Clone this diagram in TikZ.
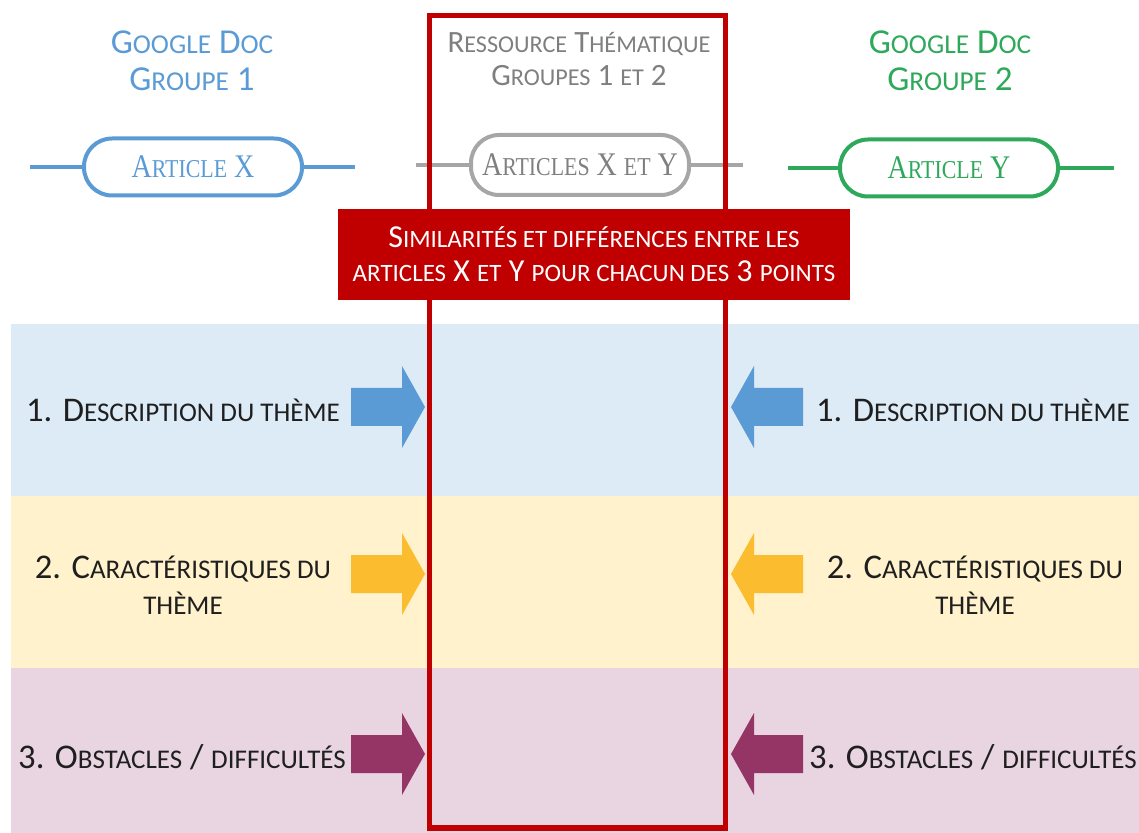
\documentclass[tikz,border=0pt]{standalone}
\usepackage{graphicx}
\usepackage{fontspec}
\setmainfont{Carlito}
\newfontfamily\pillfont{Liberation Serif}[FakeStretch=0.85]
\usetikzlibrary{calc}
\definecolor{bandblue}{HTML}{DDEBF7}
\definecolor{bandyellow}{HTML}{FFF2CC}
\definecolor{bandpurple}{HTML}{E8D5E1}
\definecolor{docblue}{HTML}{5B9BD5}
\definecolor{docgreen}{HTML}{2EA85A}
\definecolor{resgrey}{HTML}{7F7F7F}
\definecolor{pillgrey}{HTML}{A6A6A6}
\definecolor{redA}{HTML}{C00000}
\definecolor{arryellow}{HTML}{FBBC30}
\definecolor{arrpurple}{HTML}{953566}
\definecolor{itemtext}{HTML}{1F1F1F}
\newcommand\smc[1]{\scalebox{0.78}{#1}}

\begin{document}
\begin{tikzpicture}[x=0.5pt,y=-0.5pt,
    head/.style={align=center, font=\fontsize{17.5}{18.5}\selectfont},
    pill/.style={draw, line width=2pt, rounded corners=14pt, minimum width=109pt, minimum height=28.5pt, font=\pillfont\fontsize{16.5}{20}\selectfont},
    item/.style={align=center, text=itemtext, font=\fontsize{17.3}{18}\selectfont}]
            \useasboundingbox (0,0) rectangle (1139,833);
            \fill [bandblue] (11,324) rectangle (1139,496);
            \fill [bandyellow] (11,496) rectangle (1139,668);
            \fill [bandpurple] (11,668) rectangle (1139,833);
            \node (gd1) at (192,61) [head, text=docblue] {G\smc{OOGLE} D\smc{OC}\\G\smc{ROUPE} 1};
            \node (res) at (579,59) [head, text=resgrey, font=\fontsize{15.5}{16.5}\selectfont] {R\smc{ESSOURCE} T\smc{HÉMATIQUE}\\G\smc{ROUPES} 1 \smc{ET} 2};
            \node (gd2) at (950,61) [head, text=docgreen] {G\smc{OOGLE} D\smc{OC}\\G\smc{ROUPE} 2};
            \node (artX) at (193,167) [pill, docblue] {A\smc{RTICLE} X};
            \node (artXY) at (580,165) [pill, pillgrey, text=resgrey, minimum height=30pt] {A\smc{RTICLES} X \smc{ET} Y};
            \node (artY) at (949,168) [pill, docgreen] {A\smc{RTICLE} Y};
            \coordinate (xl) at (30,167);
            \coordinate (xr) at (355,167);
            \coordinate (xyl) at (416,165);
            \coordinate (xyr) at (743,165);
            \coordinate (yl) at (788,168);
            \coordinate (yr) at (1114,168);
            \draw [docblue, line width=2pt] (xl) -- (artX) (artX) -- (xr);
            \draw [pillgrey, line width=2pt] (xyl) -- (artXY) (artXY) -- (xyr);
            \draw [docgreen, line width=2pt] (yl) -- (artY) (artY) -- (yr);
            \draw [redA, line width=2.9pt] (429.5,15.5) rectangle (725.5,828);
            \node (simil) at (594,254.5) [fill=redA, text=white, minimum width=256pt, minimum height=45.5pt, align=center, font=\fontsize{16}{17}\selectfont] {S\smc{IMILARITÉS ET DIFFÉRENCES ENTRE LES}\\\smc{ARTICLES} X \smc{ET} Y \smc{POUR CHACUN DES} 3 \smc{POINTS}};
            \foreach \y/\c in {407/docblue,574/arryellow,754/arrpurple} {
                \fill [\c] (351,\y-19) -- (402,\y-19) -- (402,\y-41) -- (425,\y) -- (402,\y+41) -- (402,\y+19) -- (351,\y+19) -- cycle;
                \fill [\c] (803,\y-19) -- (754,\y-19) -- (754,\y-41) -- (731,\y) -- (754,\y+41) -- (754,\y+19) -- (803,\y+19) -- cycle;
            }
            \node (l1) at (183,410) [item] {1. D\smc{ESCRIPTION DU THÈME}};
            \node (l2) at (183,585) [item] {2. C\smc{ARACTÉRISTIQUES DU}\\\smc{THÈME}};
            \node (l3) at (182,757) [item] {3. O\smc{BSTACLES} / \smc{DIFFICULTÉS}};
            \node (r1) at (973,410) [item] {1. D\smc{ESCRIPTION DU THÈME}};
            \node (r2) at (975,585) [item] {2. C\smc{ARACTÉRISTIQUES DU}\\\smc{THÈME}};
            \node (r3) at (973,757) [item] {3. O\smc{BSTACLES} / \smc{DIFFICULTÉS}};
        \end{tikzpicture}
\end{document}
